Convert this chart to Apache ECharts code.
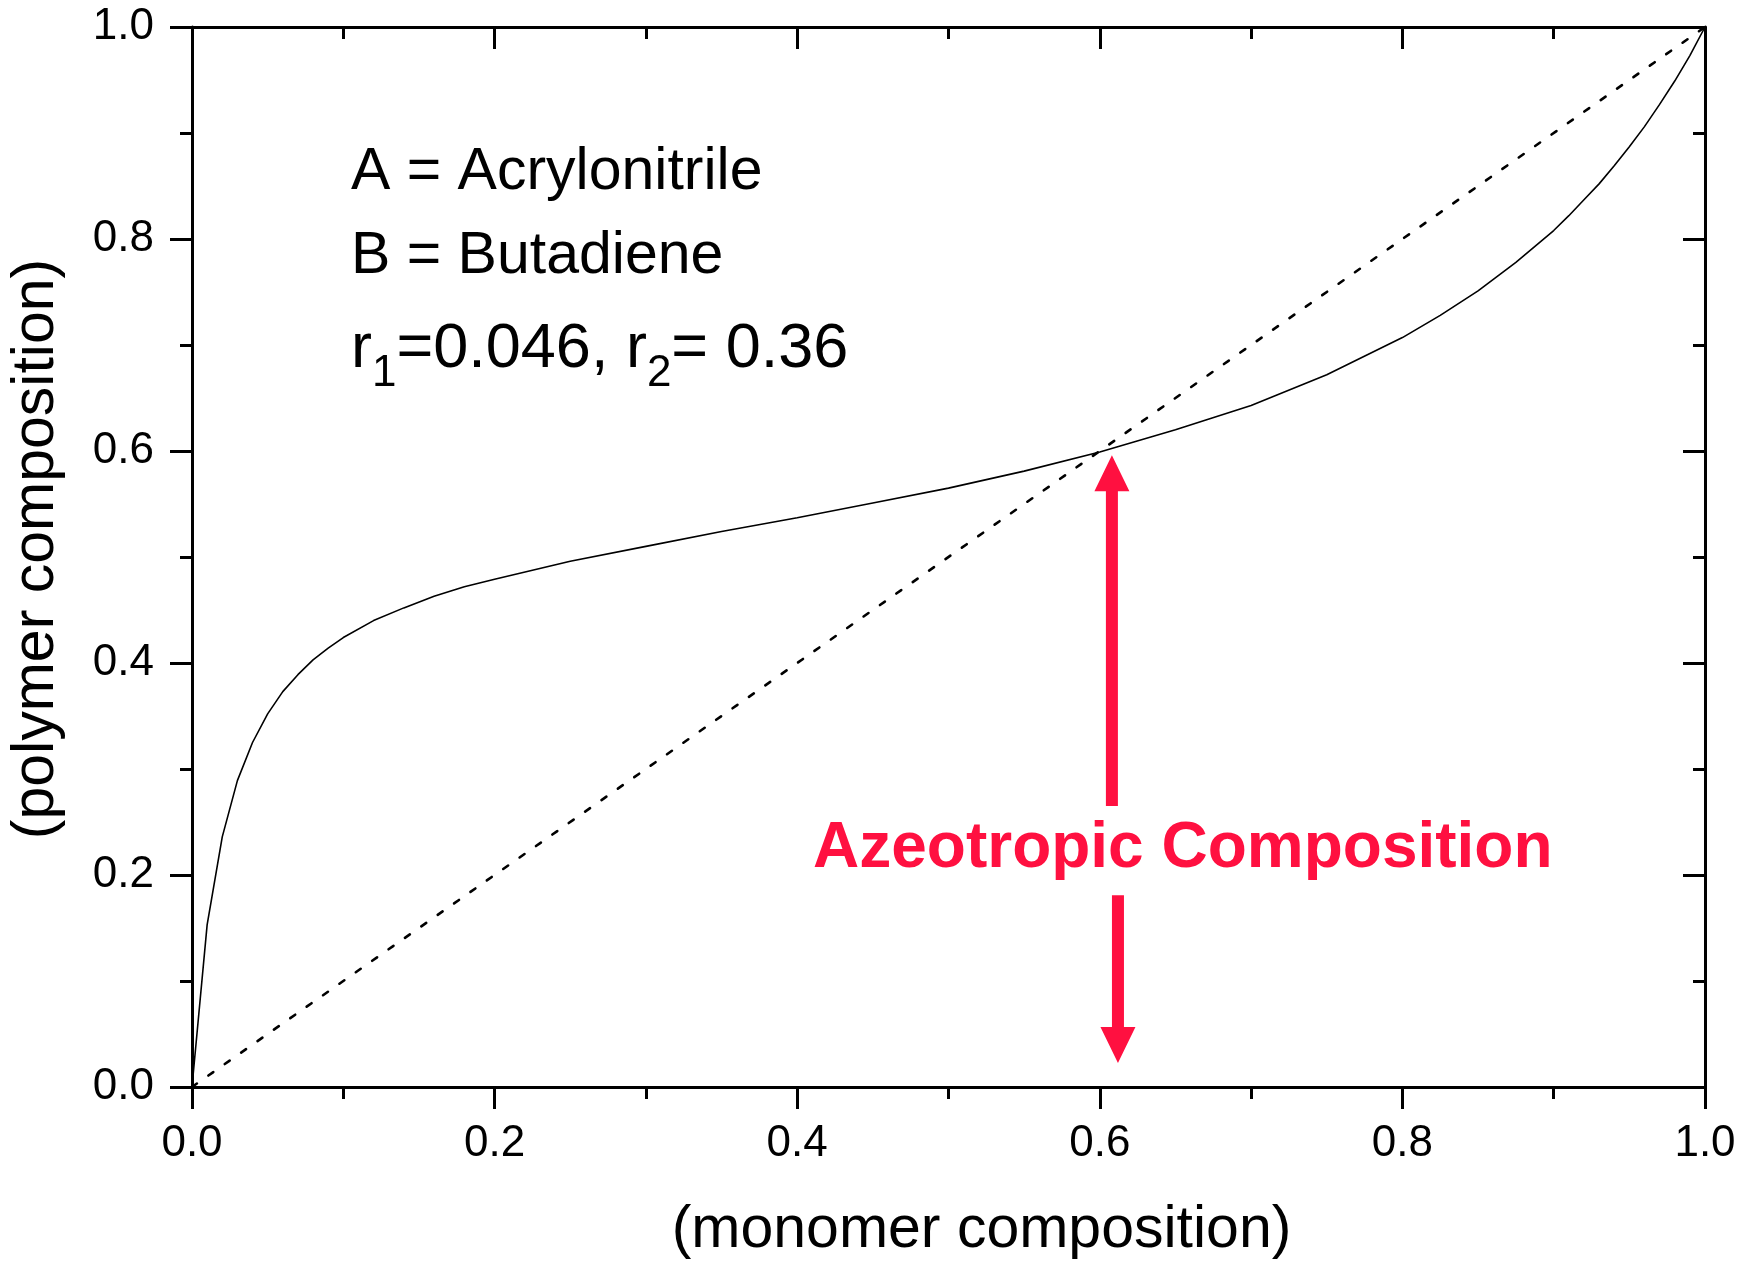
<!DOCTYPE html>
<html>
<head>
<meta charset="utf-8">
<script src="https://cdn.jsdelivr.net/npm/echarts@6/dist/echarts.min.js"></script>
<style>
  html, body { margin: 0; padding: 0; background: #fff; }
  #chart { width: 1747px; height: 1261px; }
</style>
</head>
<body>
<div id="chart"></div>
<script>
// monomer composition (x) vs polymer composition (y)
const monomerX = [0, 0.01, 0.02, 0.03, 0.04, 0.05, 0.06, 0.07, 0.08, 0.09, 0.10,
  0.12, 0.14, 0.16, 0.18, 0.20, 0.25, 0.30, 0.35, 0.40, 0.45, 0.50, 0.55, 0.60,
  0.65, 0.70, 0.75, 0.80, 0.825, 0.85, 0.875, 0.90, 0.91, 0.92, 0.93, 0.94, 0.95,
  0.96, 0.97, 0.98, 0.99, 1.0];
const polymerY = [0, 0.153, 0.236, 0.289, 0.325, 0.352, 0.373, 0.389, 0.403, 0.414, 0.424,
  0.440, 0.452, 0.463, 0.472, 0.479, 0.496, 0.510, 0.524, 0.537, 0.551, 0.565, 0.581, 0.599,
  0.620, 0.643, 0.672, 0.707, 0.728, 0.751, 0.778, 0.808, 0.822, 0.837, 0.852, 0.869, 0.887,
  0.906, 0.927, 0.949, 0.973, 1.0];
const diagonalX = [0, 1];
const diagonalY = [0, 1];

const legendLines = ['A = Acrylonitrile', 'B = Butadiene'];
const azeoLabel = 'Azeotropic Composition';
// arrows in data coords: x, tail y, tip y
const arrowUp = [0.608, 0.265, 0.596];
const arrowDown = [0.612, 0.181, 0.0226];

const FONT = '"Liberation Sans", Arial, Helvetica, sans-serif';
const RED = '#ff1040';

const chart = echarts.init(document.getElementById('chart'));

const boxAxis = (pos, inside, showLabel) => ({
  type: 'value',
  position: pos,
  min: 0,
  max: 1,
  interval: 0.2,
  axisLine: { show: true, onZero: false, lineStyle: { color: '#000', width: 3 } },
  axisTick: { show: true, inside: inside, length: 22, lineStyle: { color: '#000', width: 3 } },
  minorTick: { show: true, splitNumber: 2, length: 12, lineStyle: { color: '#000', width: 3 } },
  splitLine: { show: false },
  axisLabel: {
    show: showLabel,
    fontSize: 44,
    fontFamily: FONT,
    color: '#000',
    formatter: v => v.toFixed(1)
  }
});

const xBottom = boxAxis('bottom', false, true);
xBottom.axisLabel.margin = 35;
xBottom.name = '(monomer composition)';
xBottom.nameLocation = 'middle';
xBottom.nameGap = 114;
xBottom.nameMoveOverlap = false;
xBottom.nameTextStyle = { fontSize: 59, fontFamily: FONT, color: '#000', padding: [0, 0, 0, 66] };

const yLeft = boxAxis('left', false, true);
yLeft.axisLabel.margin = 38;
yLeft.name = '(polymer composition)';
yLeft.nameLocation = 'middle';
yLeft.nameGap = 126;
yLeft.nameMoveOverlap = false;
yLeft.nameTextStyle = { fontSize: 59, fontFamily: FONT, color: '#000', padding: [0, 0, 0, 16] };

chart.setOption({
  animation: false,
  backgroundColor: '#fff',
  grid: { left: 192, right: 42, top: 27, bottom: 174, outerBoundsMode: 'none' },
  xAxis: [xBottom, boxAxis('top', true, false)],
  yAxis: [yLeft, boxAxis('right', true, false)],
  series: [
    {
      type: 'line',
      data: monomerX.map((x, i) => [x, polymerY[i]]),
      showSymbol: false,
      lineStyle: { color: '#000', width: 1.6 },
      z: 3
    },
    {
      type: 'line',
      data: diagonalX.map((x, i) => [x, diagonalY[i]]),
      showSymbol: false,
      lineStyle: { color: '#000', width: 2.6, type: [6, 14], cap: 'round' },
      z: 2
    }
  ]
});

// annotation text
const ctx = document.createElement('canvas').getContext('2d');
const measure = (txt, size) => {
  ctx.font = size + 'px ' + FONT;
  return ctx.measureText(txt).width;
};

const graphics = [];
const textX = 351;
legendLines.forEach((t, i) => {
  graphics.push({
    type: 'text',
    style: { text: t, x: textX, y: [173, 257][i], font: '59px ' + FONT, fill: '#000', verticalAlign: 'middle' }
  });
});

// r1=0.046, r2= 0.36 with subscripts
const rParts = [['r', 63], ['1', 44], ['=0.046, r', 63], ['2', 44], ['= 0.36', 63]];
let cx = textX;
rParts.forEach(([t, size]) => {
  graphics.push({
    type: 'text',
    style: { text: t, x: cx, y: size === 63 ? 350 : 374, font: size + 'px ' + FONT, fill: '#000', verticalAlign: 'middle' }
  });
  cx += measure(t, size);
});

graphics.push({
  type: 'text',
  style: { text: azeoLabel, x: 813, y: 849, font: 'bold 64px ' + FONT, fill: RED, verticalAlign: 'middle' }
});

const arrowShape = (a) => {
  const tail = chart.convertToPixel({ xAxisIndex: 0, yAxisIndex: 0 }, [a[0], a[1]]);
  const tip = chart.convertToPixel({ xAxisIndex: 0, yAxisIndex: 0 }, [a[0], a[2]]);
  const dir = tip[1] < tail[1] ? -1 : 1;
  const headLen = 36, headHalf = 17.5, shaftHalf = 6;
  const base = tip[1] - dir * headLen;
  const x = tip[0];
  return [
    [x - shaftHalf, tail[1]], [x - shaftHalf, base], [x - headHalf, base],
    [x, tip[1]], [x + headHalf, base], [x + shaftHalf, base], [x + shaftHalf, tail[1]]
  ];
};
[arrowUp, arrowDown].forEach(a => {
  graphics.push({
    type: 'polygon',
    shape: { points: arrowShape(a) },
    style: { fill: RED },
    z: 10
  });
});

chart.setOption({ graphic: graphics });
</script>
</body>
</html>
